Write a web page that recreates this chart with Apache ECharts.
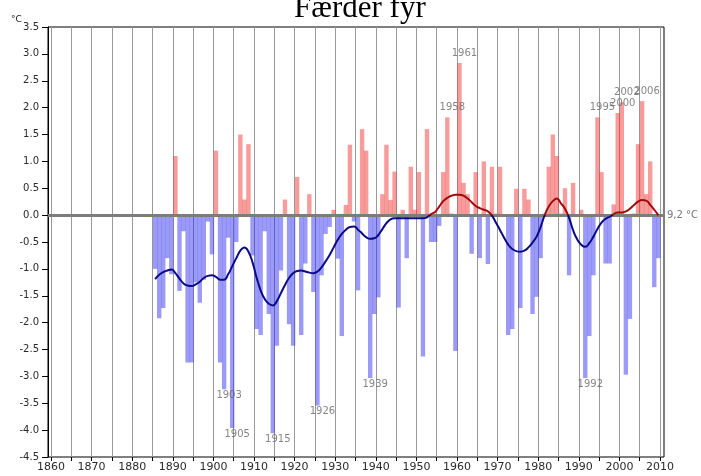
<!DOCTYPE html>
<html>
<head>
<meta charset="utf-8">
<script src="https://cdn.jsdelivr.net/npm/echarts@6/dist/echarts.min.js"></script>
<style>
  html, body { margin: 0; padding: 0; background: #fff; }
  #chart { width: 701px; height: 476px; }
</style>
</head>
<body>
<div id="chart"></div>
<script>
// yearly deviation from the 9,2 °C normal, 1886-2010
const firstYear = 1886
const anomaly = [
  -1.0, -1.92, -1.73, -0.8, -1.1, 1.1, -1.41, -0.3, -2.74, -2.74,        // 1886-1895
  -1.25, -1.63, -1.2, -0.12, -0.73, 1.2, -2.74, -3.24, -0.42, -3.96,     // 1896-1905
  -0.5, 1.5, 0.29, 1.32, -0.75, -2.12, -2.23, -0.3, -1.84, -4.06,        // 1906-1915
  -2.43, -1.03, 0.29, -2.03, -2.43, 0.71, -2.23, -0.9, 0.39, -1.43,      // 1916-1925
  -3.54, -1.12, -0.35, -0.22, 0.1, -0.81, -2.25, 0.19, 1.31, -0.12,      // 1926-1935
  -1.4, 1.6, 1.2, -3.03, -1.84, -1.53, 0.39, 1.31, 0.28, 0.81,           // 1936-1945
  -1.72, 0.1, -0.8, 0.9, 0.1, 0.8, -2.63, 1.6, -0.5, -0.5,               // 1946-1955
  -0.2, 0.8, 1.82, 0.03, -2.53, 2.83, 0.6, 0.39, -0.72, 0.8,             // 1956-1965
  -0.8, 1.0, -0.91, 0.9, 0.03, 0.9, -0.03, -2.23, -2.12, 0.49,           // 1966-1975
  -1.73, 0.49, 0.29, -1.84, -1.52, -0.8, 0.03, 0.9, 1.5, 1.1,            // 1976-1985
  0.03, 0.5, -1.12, 0.6, -0.03, 0.1, -3.03, -2.25, -1.12, 1.82,          // 1986-1995
  0.8, -0.9, -0.9, 0.2, 1.9, 2.1, -2.97, -1.93, 0.03, 1.32,              // 1996-2005
  2.12, 0.39, 1.0, -1.34, -0.8                                           // 2006-2010
]
// smoothed curve
const smoothed = [
  -1.19, -1.11, -1.06, -1.03, -1.01, -1.08, -1.18, -1.27, -1.31, -1.32,
  -1.29, -1.24, -1.17, -1.13, -1.12, -1.15, -1.2, -1.2, -1.1, -0.95,
  -0.8, -0.66, -0.6, -0.68, -0.88, -1.16, -1.4, -1.56, -1.65, -1.68,
  -1.6, -1.45, -1.3, -1.17, -1.08, -1.04, -1.03, -1.05, -1.07, -1.08,
  -1.05, -0.97, -0.86, -0.74, -0.6, -0.46, -0.35, -0.27, -0.22, -0.21,
  -0.27, -0.34, -0.41, -0.44, -0.43, -0.37, -0.26, -0.15, -0.08, -0.06,
  -0.06, -0.06, -0.06, -0.06, -0.06, -0.06, -0.06, -0.04, 0.02, 0.06,
  0.16, 0.26, 0.32, 0.36, 0.38, 0.38, 0.36, 0.31, 0.24, 0.17,
  0.13, 0.1, 0.07, -0.01, -0.14, -0.28, -0.42, -0.55, -0.63, -0.67,
  -0.68, -0.66, -0.6, -0.51, -0.4, -0.22, 0.0, 0.16, 0.26, 0.31,
  0.22, 0.12, -0.05, -0.28, -0.45, -0.55, -0.59, -0.52, -0.4, -0.26,
  -0.14, -0.07, -0.03, 0.02, 0.05, 0.05, 0.07, 0.12, 0.19, 0.25,
  0.28, 0.27, 0.19, 0.1, 0.0
]
// year labels and the bar each one sits on
const labelTexts = ['1903', '1905', '1915', '1926', '1939', '1958', '1961', '1992', '1995', '2000', '2002', '2006']
const labelBars = [1903, 1905, 1915, 1926, 1939, 1958, 1961, 1992, 1995, 2000, 2001, 2006]

const years = anomaly.map((v, i) => firstYear + i)
const tickFont = { fontFamily: 'DejaVu Sans', fontSize: 10, color: '#2a2a2a' }

const chart = echarts.init(document.getElementById('chart'))
chart.setOption({
  animation: false,
  title: {
    text: 'Færder fyr',
    left: 289,
    top: -12,
    textStyle: { fontFamily: 'Liberation Serif', fontSize: 31, fontWeight: 'normal', color: '#000' }
  },
  graphic: [{
    type: 'text', left: 11, top: 15,
    style: { text: '°C', fontFamily: 'DejaVu Sans', fontSize: 9, fill: '#222' }
  }],
  grid: [
    { left: 48, top: 27, width: 616, height: 430, show: true, borderColor: '#000', borderWidth: 1 },
    { left: 51, top: 27, width: 609, height: 430 }
  ],
  xAxis: [
    {
      type: 'value', gridIndex: 0, min: 1859.6, max: 2011.4,
      axisLine: { show: false }, axisTick: { show: false },
      axisLabel: { show: false }, splitLine: { show: false }
    },
    {
      type: 'value', gridIndex: 1, min: 1860, max: 2010, interval: 5,
      axisLine: { show: false },
      axisTick: { show: true, length: 4, lineStyle: { color: '#000' } },
      axisLabel: {
        ...tickFont, fontSize: 11, margin: 5,
        formatter: v => (v % 10 === 0 ? String(v) : '')
      },
      splitLine: { show: true, lineStyle: { color: '#999', width: 1 } }
    }
  ],
  yAxis: [
    {
      type: 'value', gridIndex: 0, min: -4.5, max: 3.5, interval: 0.5,
      axisLine: { show: true, lineStyle: { color: '#000' } },
      axisTick: { show: true, length: 6, lineStyle: { color: '#000' } },
      axisLabel: { ...tickFont, margin: 9, formatter: v => v.toFixed(1) },
      splitLine: { show: false }
    },
    { type: 'value', gridIndex: 1, min: 0, max: 1, show: false }
  ],
  visualMap: {
    show: false, type: 'piecewise', seriesIndex: 1, dimension: 1,
    pieces: [
      { gt: -10, lte: 0, color: '#0a0a86' },
      { gt: 0, lte: 10, color: '#a00a0a' }
    ]
  },
  series: [
    {
      type: 'bar',
      xAxisIndex: 0, yAxisIndex: 0,
      barWidth: 4.4,
      data: years.map((y, i) => [y, anomaly[i]]),
      itemStyle: {
        color: p => (p.value[1] >= 0 ? 'rgba(240,55,55,0.5)' : 'rgba(55,55,240,0.5)')
      },
      markLine: {
        silent: true, symbol: 'none',
        lineStyle: { color: '#7c7c7c', width: 3, type: 'solid' },
        label: { show: true, position: 'end', distance: 3, formatter: '9,2 °C', fontFamily: 'DejaVu Sans', fontSize: 10, color: '#777' },
        data: [{ yAxis: 0 }]
      }
    },
    {
      type: 'line',
      xAxisIndex: 0, yAxisIndex: 0,
      data: years.map((y, i) => [y, smoothed[i]]),
      smooth: true,
      showSymbol: false,
      lineStyle: { width: 2 },
      z: 5
    },
    {
      type: 'scatter',
      xAxisIndex: 0, yAxisIndex: 0,
      symbolSize: 1,
      itemStyle: { color: 'rgba(0,0,0,0)' },
      silent: true,
      data: labelBars.map((y, i) => {
        const v = anomaly[y - firstYear]
        return {
          value: [y, v],
          label: {
            show: true,
            formatter: labelTexts[i],
            position: v >= 0 ? 'top' : 'bottom',
            distance: v >= 0 ? 4 : 1,
            offset: [5, 0],
            fontFamily: 'DejaVu Sans', fontSize: 10, color: '#666'
          }
        }
      }),
      z: 6
    }
  ]
})
</script>
</body>
</html>
